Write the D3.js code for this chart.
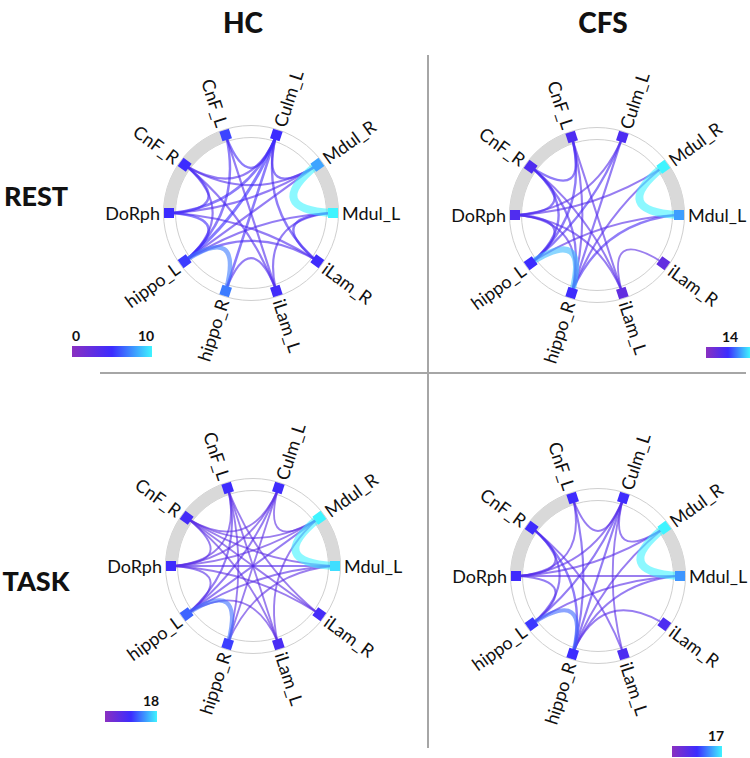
<!DOCTYPE html>
<html>
<head>
<meta charset="utf-8">
<script src="https://cdn.jsdelivr.net/npm/d3@7/dist/d3.min.js"></script>
<style>
  html,body{margin:0;padding:0;background:#fff;}
  svg{display:block;}
  text{font-family:Lato,"Open Sans",sans-serif;}
</style>
</head>
<body>
<svg id="chart" width="750" height="758"></svg>
<script>
// ---------- DATA ----------
const nodeNames = ["Mdul_L","Mdul_R","Culm_L","CnF_L","CnF_R","DoRph","hippo_L","hippo_R","iLam_L","iLam_R"];
const groupNames = ["HC","CFS"];
const conditionNames = ["REST","TASK"];
const bandGroups = [["CnF_L","DoRph"],["Mdul_L","Mdul_R"]];

const colorMaxes = [10, 14, 18, 17];            // HC-REST, CFS-REST, HC-TASK, CFS-TASK
const colorbarTicks = [["0","10"],["14"],["18"],["17"]];

// node strengths (same order as nodeNames)
const nodesHCRest  = [10, 8, 5, 5.6, 5, 5, 5.4, 7, 4.6, 4.8];
const nodesCFSRest = [11, 14, 5.5, 5.4, 5.2, 5.2, 7, 6.8, 3.6, 3.6];
const nodesHCTask  = [17, 18, 8.6, 8.8, 8, 8.8, 11.5, 9.8, 7.4, 8];
const nodesCFSTask = [13, 17, 8.2, 8.2, 8.2, 8.2, 9, 8.5, 6.6, 6.6];

// edges [source, target, weight]
const edgesHCRest = [
  ["Mdul_R","Mdul_L",10],["hippo_L","hippo_R",7],
  ["Culm_L","hippo_L",5],["Culm_L","hippo_R",4.4],["Culm_L","CnF_L",4.2],["Culm_L","Mdul_R",4],
  ["Culm_L","DoRph",4.4],["Culm_L","iLam_R",4],["Culm_L","CnF_R",3.6],
  ["CnF_L","hippo_L",4.2],["CnF_L","iLam_L",3.6],
  ["CnF_R","DoRph",4.2],["CnF_R","Mdul_R",3.6],["CnF_R","iLam_L",3.6],["CnF_R","hippo_L",3.6],
  ["DoRph","hippo_L",4.6],["DoRph","Mdul_R",3.6],["DoRph","iLam_R",3.6],
  ["hippo_L","Mdul_L",3.6],["hippo_L","Mdul_R",3.6],["hippo_L","iLam_R",3.8],
  ["Mdul_L","iLam_R",4.2],["iLam_L","Mdul_L",3.6],["iLam_L","hippo_R",3.6]
];
const edgesCFSRest = [
  ["Mdul_R","Mdul_L",14],["hippo_L","hippo_R",12],
  ["CnF_R","CnF_L",5.6],["CnF_R","DoRph",5.6],["CnF_R","hippo_L",5.6],["CnF_R","hippo_R",5.2],["CnF_R","iLam_L",4.6],
  ["CnF_L","hippo_L",5.6],["CnF_L","iLam_L",4.6],["CnF_L","hippo_R",4.8],
  ["Culm_L","hippo_L",5.6],["Culm_L","hippo_R",5],["Culm_L","DoRph",4.6],
  ["DoRph","hippo_L",5.6],["DoRph","Mdul_R",4.6],["DoRph","iLam_L",4.6],["DoRph","hippo_R",4.6],
  ["hippo_R","Mdul_L",5.6],["hippo_R","Mdul_R",4.8],["hippo_L","Mdul_L",4.6],
  ["iLam_L","iLam_R",4]
];
const edgesHCTask = [
  ["Mdul_R","Mdul_L",18],["hippo_L","hippo_R",12],
  ["CnF_L","hippo_L",6],["CnF_L","hippo_R",5.2],["CnF_L","iLam_L",5.2],["CnF_L","iLam_R",5.2],["CnF_L","DoRph",5.2],
  ["Culm_L","hippo_L",6],["Culm_L","hippo_R",5.2],["Culm_L","Mdul_R",5.2],["Culm_L","DoRph",5.2],["Culm_L","CnF_R",5.2],
  ["CnF_R","DoRph",5.6],["CnF_R","Mdul_R",5.2],["CnF_R","iLam_R",5.2],["CnF_R","Mdul_L",5.2],
  ["DoRph","hippo_L",5.6],["DoRph","Mdul_L",6],["DoRph","iLam_R",5.2],["DoRph","Mdul_R",5.2],
  ["hippo_L","Mdul_R",6],["hippo_L","Mdul_L",5.6],["hippo_L","iLam_L",5.2],
  ["hippo_R","Mdul_L",5.2],["iLam_L","Mdul_R",5.2],["iLam_L","CnF_R",5.2]
];
const edgesCFSTask = [
  ["Mdul_R","Mdul_L",17],["hippo_L","hippo_R",11],
  ["DoRph","Mdul_L",5],
  ["CnF_R","hippo_R",6.8],["CnF_R","DoRph",6],["CnF_R","hippo_L",6],["CnF_R","iLam_L",5.4],
  ["CnF_L","hippo_R",6],["CnF_L","Culm_L",5.4],["CnF_L","DoRph",5.4],
  ["Culm_L","hippo_L",6],["Culm_L","hippo_R",6],["Culm_L","Mdul_R",5.4],["Culm_L","DoRph",5.4],
  ["DoRph","hippo_L",6],["DoRph","Mdul_R",5.4],
  ["hippo_R","Mdul_L",5.6],["hippo_R","Mdul_R",5.4],["hippo_R","iLam_R",5.4],
  ["hippo_L","Mdul_L",5.4],["iLam_L","Culm_L",5]
];

// ---------- LAYOUT ----------
const panels = [
  {nodes:nodesHCRest,  edges:edgesHCRest,  max:colorMaxes[0], ticks:colorbarTicks[0], cx:251, cy:213, cb:{x:72, y:346, w:80, h:11}, tickX:[76,146]},
  {nodes:nodesCFSRest, edges:edgesCFSRest, max:colorMaxes[1], ticks:colorbarTicks[1], cx:597, cy:215, cb:{x:706,y:347, w:44, h:11}, tickX:[730]},
  {nodes:nodesHCTask,  edges:edgesHCTask,  max:colorMaxes[2], ticks:colorbarTicks[2], cx:253, cy:566, cb:{x:105,y:711, w:52, h:11}, tickX:[151]},
  {nodes:nodesCFSTask, edges:edgesCFSTask, max:colorMaxes[3], ticks:colorbarTicks[3], cx:598, cy:576, cb:{x:672,y:746, w:50, h:11}, tickX:[716]}
];
const R_NODE = 82, R_IN = 75.5, R_OUT = 87.5, R_LABEL = 91;

const svg = d3.select("#chart");
const defs = svg.append("defs");
const cmapStops = ["#8a30c0","#3c2cff","#3ff4ff"];
const cmap = d3.scaleLinear().domain([0,0.5,1]).range(cmapStops).interpolate(d3.interpolateRgb);
const widthScale = d3.scalePow().exponent(2).domain([0,1]).range([1.3, 8]);

const grad = defs.append("linearGradient").attr("id","cbar").attr("x1","0%").attr("x2","100%");
cmapStops.forEach((c,i)=>grad.append("stop").attr("offset",(i*50)+"%").attr("stop-color",c));

// angle scale: node index -> math angle (deg, CCW from east)
const angleScale = d3.scaleLinear().domain([0, nodeNames.length]).range([0, 360]);
const idx = n => nodeNames.indexOf(n);
const rad = d => d*Math.PI/180;

// dividers
svg.append("line").attr("x1",428).attr("x2",428).attr("y1",55).attr("y2",748)
  .attr("stroke","#a6a6a6").attr("stroke-width",2);
svg.append("line").attr("x1",100).attr("x2",746).attr("y1",373).attr("y2",373)
  .attr("stroke","#a6a6a6").attr("stroke-width",2);

// headers
svg.selectAll("text.grp").data(groupNames).join("text").attr("class","grp")
  .attr("x",(d,i)=>[243,603][i]).attr("y",33).attr("text-anchor","middle")
  .attr("font-size",28).attr("font-weight","900").attr("fill","#111").text(d=>d);
svg.selectAll("text.cond").data(conditionNames).join("text").attr("class","cond")
  .attr("x",36).attr("y",(d,i)=>[206,591][i]).attr("text-anchor","middle")
  .attr("font-size",27).attr("font-weight","900").attr("fill","#111").text(d=>d);

panels.forEach(p=>{
  const g = svg.append("g").attr("transform",`translate(${p.cx},${p.cy})`);
  const pos = (i,r)=>{const a=rad(angleScale(i)); return [r*Math.cos(a), -r*Math.sin(a)];};

  // ring circles
  [R_IN,R_OUT].forEach(r=>g.append("circle").attr("r",r).attr("fill","none")
     .attr("stroke","#cfcfcf").attr("stroke-width",1));
  // gray bands
  const arc = d3.arc().innerRadius(R_IN).outerRadius(R_OUT);
  bandGroups.forEach(([a,b])=>{
    const A = angleScale(idx(a)), B = angleScale(idx(b));
    const lo = Math.min(A,B), hi = Math.max(A,B);
    g.append("path").attr("d",arc({startAngle:rad(90-hi-2), endAngle:rad(90-lo+2)}))
      .attr("fill","#d9d9d9");
  });

  // edges (draw weakest first)
  const edges = p.edges.slice().sort((a,b)=>a[2]-b[2]);
  g.selectAll("path.edge").data(edges).join("path").attr("class","edge")
    .attr("d",e=>{
      const [x0,y0]=pos(idx(e[0]),R_NODE-3), [x1,y1]=pos(idx(e[1]),R_NODE-3);
      const mx=(x0+x1)/2, my=(y0+y1)/2;
      const p2=d3.path(); p2.moveTo(x0,y0); p2.quadraticCurveTo(mx*0.2,my*0.2,x1,y1); return p2.toString();
    })
    .attr("fill","none")
    .attr("stroke",e=>cmap(e[2]/p.max))
    .attr("stroke-width",e=>widthScale(e[2]/p.max))
    .attr("stroke-opacity",e=> e[2]/p.max>0.6 ? 0.6 : 0.62)
    .attr("stroke-linecap","round");

  // nodes
  g.selectAll("rect.node").data(nodeNames).join("rect").attr("class","node")
    .attr("x",-5).attr("y",-5).attr("width",10).attr("height",10)
    .attr("transform",(d,i)=>{const [x,y]=pos(i,R_NODE); return `translate(${x},${y}) rotate(${-angleScale(i)})`;})
    .attr("fill",(d,i)=>cmap(p.nodes[i]/p.max));

  // labels
  g.selectAll("text.lab").data(nodeNames).join("text").attr("class","lab")
    .attr("transform",(d,i)=>{
      const a = angleScale(i); const [x,y]=pos(i,R_LABEL);
      const left = a>90 && a<270;
      return `translate(${x},${y}) rotate(${left?180-a:-a})`;
    })
    .attr("text-anchor",(d,i)=>{const a=angleScale(i); return (a>90&&a<270)?"end":"start";})
    .attr("dominant-baseline","central")
    .attr("font-size",18).attr("fill","#111").text(d=>d);

  // colorbar
  const cb = p.cb;
  svg.append("rect").attr("x",cb.x).attr("y",cb.y).attr("width",cb.w).attr("height",cb.h)
    .attr("fill","url(#cbar)");
  svg.selectAll(null).data(p.ticks).join("text")
    .attr("x",(d,i)=>p.tickX[i]).attr("y",cb.y-5).attr("text-anchor","middle")
    .attr("font-size",14).attr("font-weight","bold").attr("fill","#111").text(d=>d);
});
</script>
</body>
</html>
